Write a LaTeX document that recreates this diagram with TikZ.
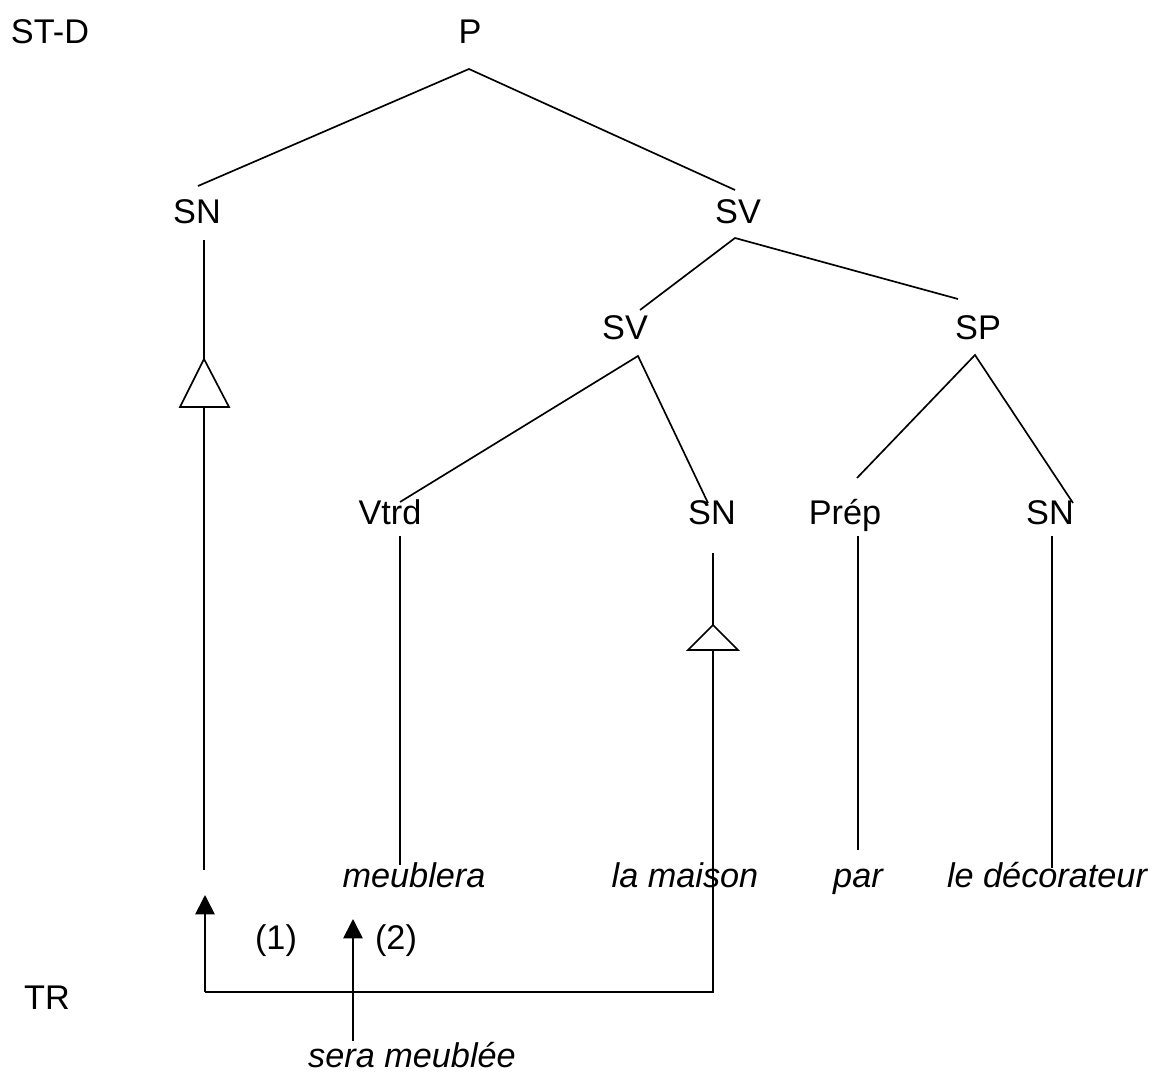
\documentclass[tikz,border=0pt]{standalone}
\usepackage{fontspec}
\setmainfont{Liberation Sans}
\usetikzlibrary{arrows.meta}
\begin{document}
\begin{tikzpicture}[x=0.02cm,y=-0.02cm,
  every node/.style={inner sep=0pt,font=\fontsize{19.5}{23}\selectfont},
  lab/.style={anchor=base},
  word/.style={anchor=base,font=\fontsize{19.5}{23}\selectfont\itshape},
  edge/.style={line width=0.95pt},
  tip/.style={line width=0.95pt,-{Triangle[width=11pt,length=11pt]}}]
\useasboundingbox (0,0) rectangle (1154,1074);

% level labels
\node[lab] (std) at (50,44) {ST-D};
\node[lab] (tr) at (47,1009) {TR};

% categories
\node[lab] (P) at (470,44) {P};
\node[lab] (SNa) at (197,224) {SN};
\node[lab] (SVa) at (738,224) {SV};
\node[lab] (SVb) at (625,340) {SV};
\node[lab] (SP) at (978,340) {SP};
\node[lab] (V) at (390,525) {Vtrd};
\node[lab] (SNb) at (712,525) {SN};
\node[lab] (Prep) at (845,525) {Prép};
\node[lab] (SNc) at (1050,525) {SN};

% words
\node[word] (w1) at (414,888) {meublera};
\node[word] (w2) at (685,888) {la maison};
\node[word] (w3) at (858,888) {par};
\node[word] (w4) at (1047,888) {le décorateur};
\node[word] (w5) at (412,1067) {sera meublée};
\node[lab] (n1) at (276,949) {(1)};
\node[lab] (n2) at (396,949) {(2)};

% branch points
\coordinate (P-b) at (469,69);
\coordinate (SNa-t) at (198,186);
\coordinate (SVa-t) at (735,190);
\coordinate (SVa-b) at (735,238);
\coordinate (SVb-t) at (640,310);
\coordinate (SP-t) at (958,299);
\coordinate (SVb-b) at (638,356);
\coordinate (V-t) at (400,502);
\coordinate (SNb-t) at (708,503);
\coordinate (SP-b) at (975,355);
\coordinate (Prep-t) at (857,478);
\coordinate (SNc-t) at (1073,503);

\draw[edge] (SNa-t) -- (P-b) -- (SVa-t);
\draw[edge] (SVb-t) -- (SVa-b) -- (SP-t);
\draw[edge] (V-t) -- (SVb-b) -- (SNb-t);
\draw[edge] (Prep-t) -- (SP-b) -- (SNc-t);

% terminal stems
\coordinate (V-b) at (400,536);
\coordinate (V-e) at (400,865);
\coordinate (Prep-b) at (858,536);
\coordinate (Prep-e) at (858,850);
\coordinate (SNc-b) at (1052,536);
\coordinate (SNc-e) at (1052,868);
\draw[edge] (V-b) -- (V-e);
\draw[edge] (Prep-b) -- (Prep-e);
\draw[edge] (SNc-b) -- (SNc-e);

% subject SN with triangle
\coordinate (SNa-b) at (204,240);
\coordinate (triA) at (204,359);
\coordinate (triAl) at (180,407);
\coordinate (triAr) at (229,407);
\coordinate (triAb) at (204,407);
\coordinate (SNa-e) at (204,870);
\draw[edge] (SNa-b) -- (triA);
\draw[edge] (triA) -- (triAl) -- (triAr) -- cycle;
\draw[edge] (triAb) -- (SNa-e);

% object SN with triangle
\coordinate (SNb-b) at (713,553);
\coordinate (triB) at (713,625);
\coordinate (triBl) at (688,650);
\coordinate (triBr) at (738,650);
\coordinate (triBb) at (713,650);
\draw[edge] (SNb-b) -- (triB);
\draw[edge] (triB) -- (triBl) -- (triBr) -- cycle;

% movement (1) and insertion (2)
\coordinate (mvC) at (713,992);
\coordinate (mvL) at (205,992);
\coordinate (mvT) at (205,895);
\coordinate (insB) at (353,1041);
\coordinate (insT) at (353,919);
\draw[edge] (triBb) -- (mvC) -- (mvL);
\draw[tip] (mvL) -- (mvT);
\draw[tip] (insB) -- (insT);
\end{tikzpicture}
\end{document}
